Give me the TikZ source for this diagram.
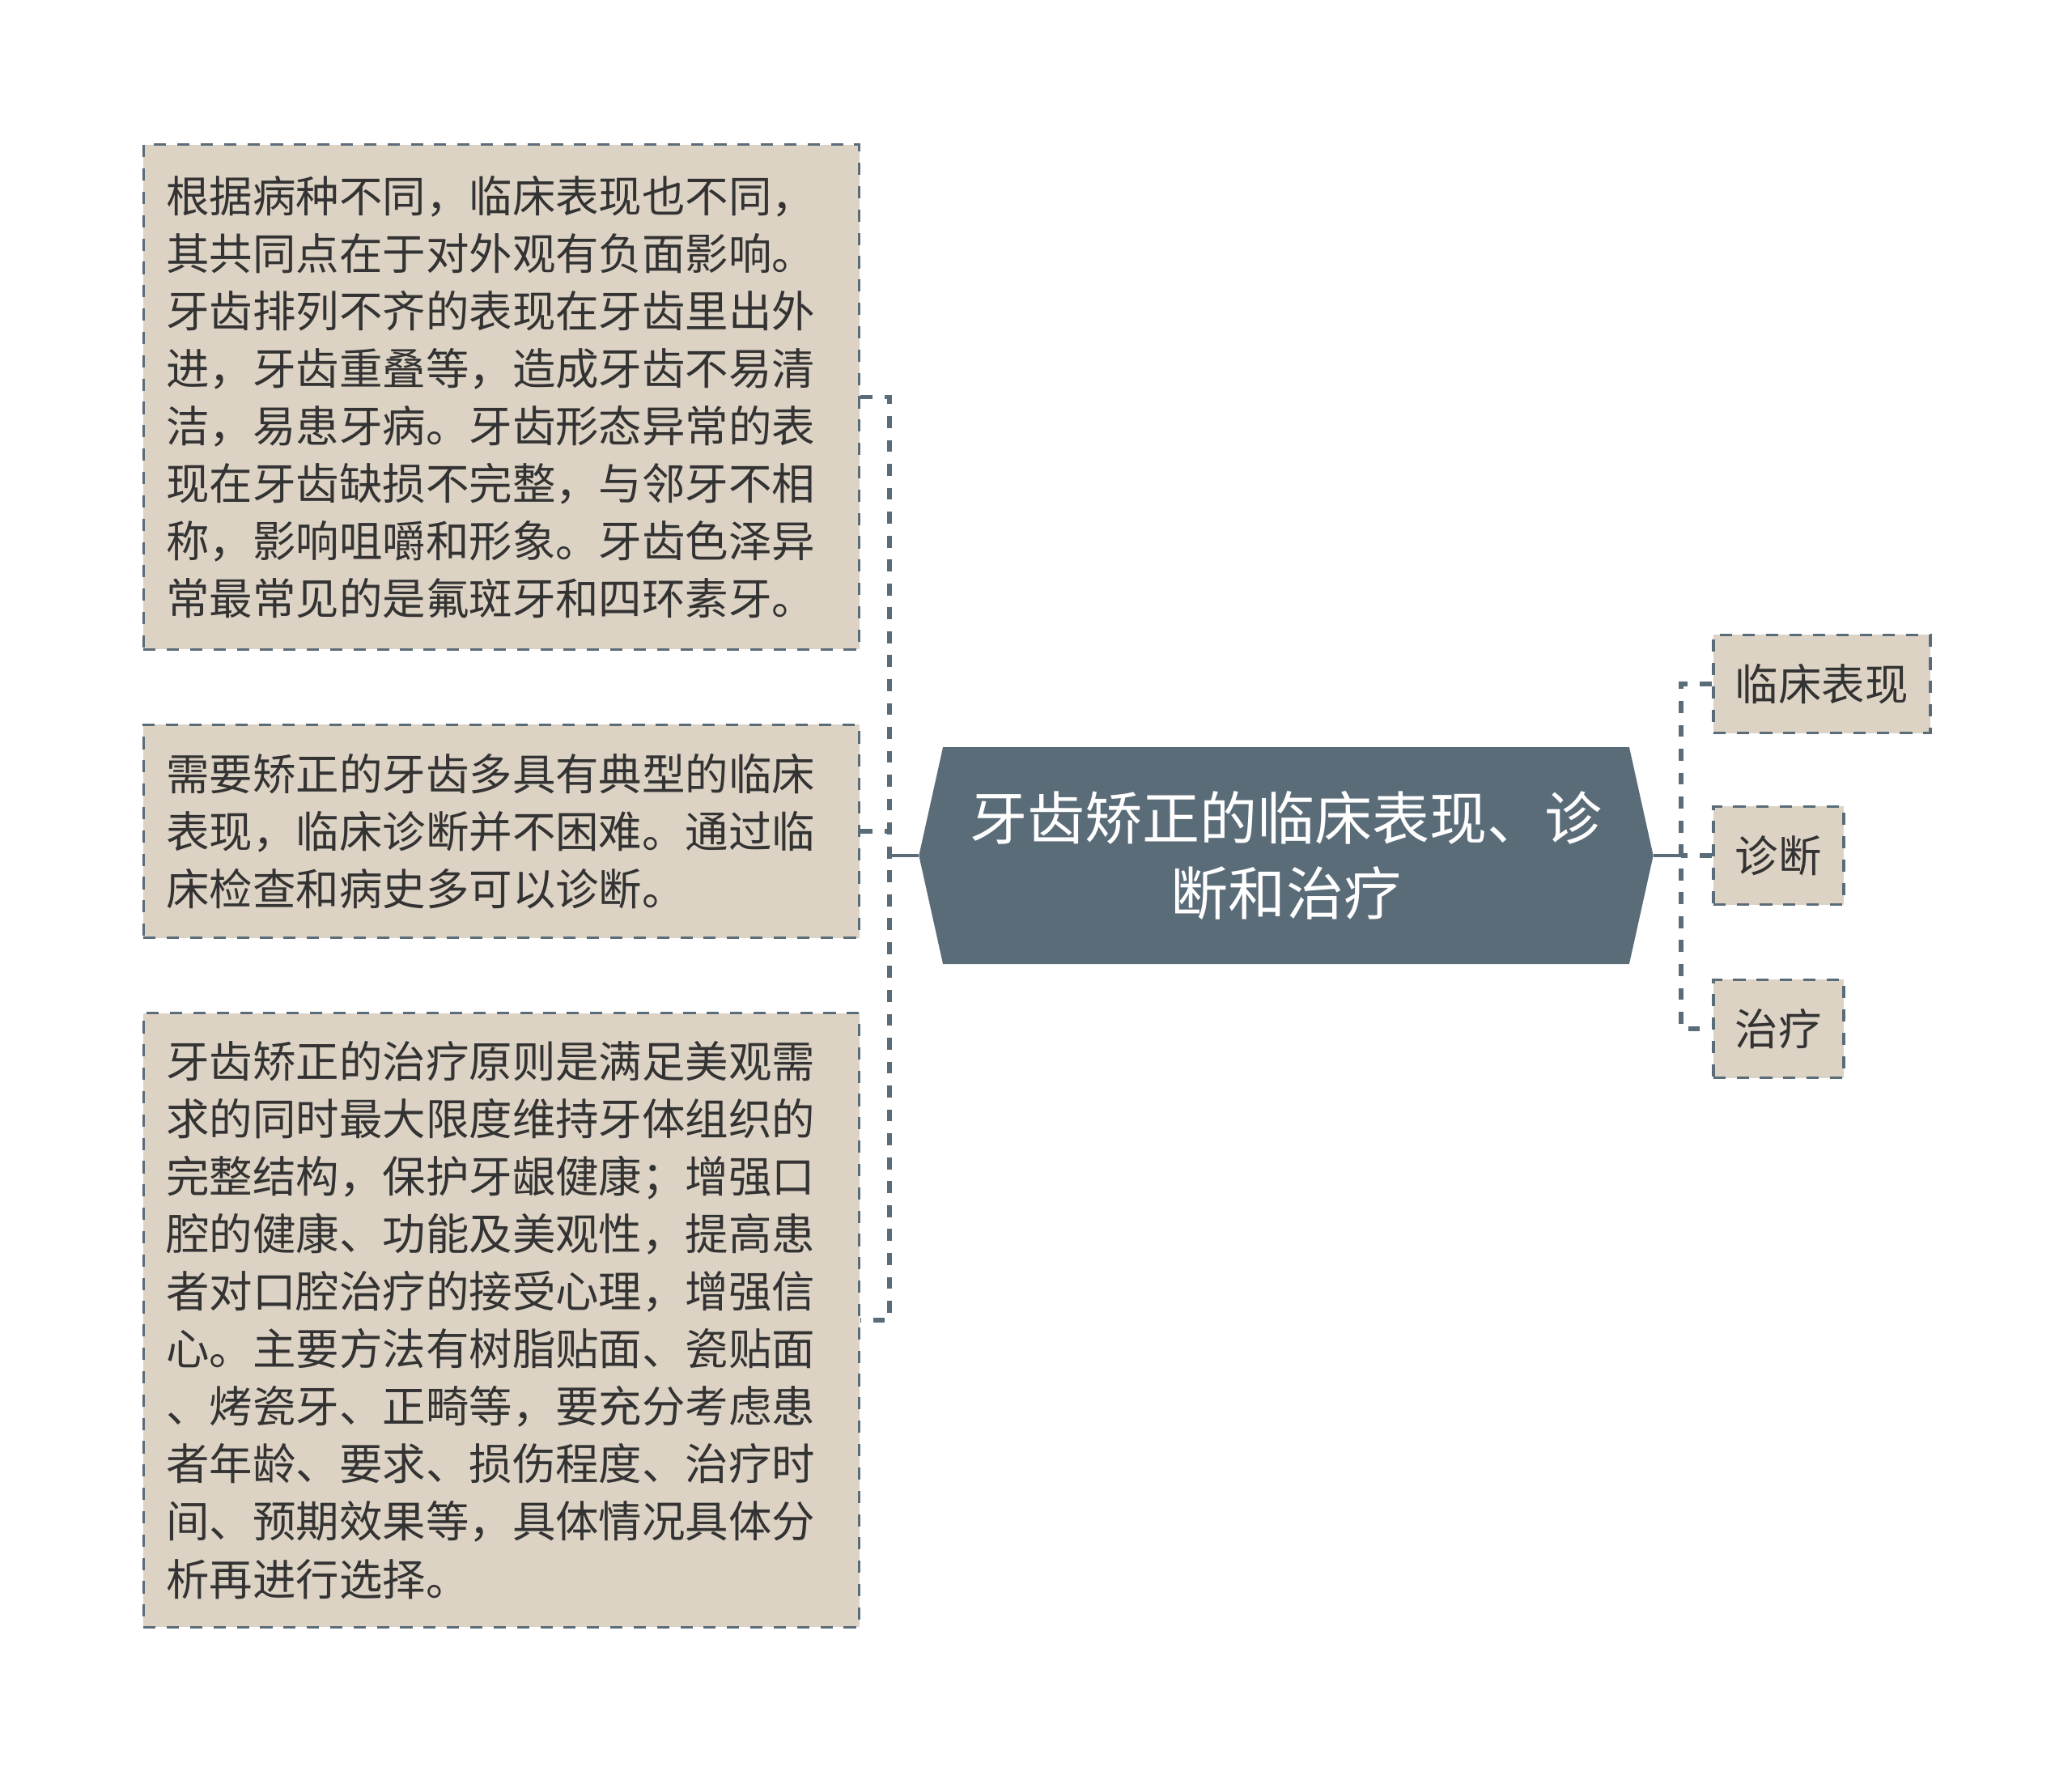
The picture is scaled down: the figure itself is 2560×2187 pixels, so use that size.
\documentclass[tikz,border=0pt]{standalone}
\usepackage{fontspec}
\newfontfamily\cjk{Noto Sans CJK SC}
\usetikzlibrary{shapes.symbols}
\definecolor{slate}{HTML}{5B6C79}
\definecolor{sand}{HTML}{DDD3C4}
\definecolor{ink}{HTML}{333333}
\tikzset{
	notebox/.style={draw=slate, line width=1pt, dash pattern=on 4.3pt off 3.9pt, fill=sand, text=ink,
		font=\cjk\fontsize{15.2pt}{20.2pt}\selectfont, text width=235.5pt, align=left, inner xsep=8pt, inner ysep=0pt},
	leafbox/.style={draw=slate, line width=1pt, dash pattern=on 4.3pt off 3.9pt, fill=sand, text=ink,
		font=\cjk\fontsize{15.2pt}{18pt}\selectfont, inner xsep=7.7pt, minimum height=34.5pt, anchor=west},
	hubnode/.style={signal, signal to=west and east, signal pointer angle=155, fill=slate, text=white,
		font=\cjk\fontsize{20.2pt}{26.5pt}\selectfont, align=center, minimum width=258pt, minimum height=76.2pt, inner sep=0pt},
	link/.style={draw=slate, line width=1.5pt, dash pattern=on 4.2pt off 4.2pt},
	trunk/.style={draw=slate, line width=1.2pt},
}

\begin{document}
\begin{tikzpicture}[x=0.01cm, y=-0.01cm]
			%%%%% START %%%%%
			\path[fill=white, use as bounding box] (0, 0) rectangle (2560, 2187);
			
			\node[notebox, minimum height=177.4pt] (signs) at (619.5, 490.5) {根据病种不同，临床表现也不同，\\其共同点在于对外观有负面影响。\\牙齿排列不齐的表现在牙齿里出外\\进，牙齿重叠等，造成牙齿不易清\\洁，易患牙病。牙齿形态异常的表\\现在牙齿缺损不完整，与邻牙不相\\称，影响咀嚼和形象。牙齿色泽异\\常最常见的是氟斑牙和四环素牙。};
			\node[notebox, minimum height=74.9pt] (diagnose) at (619.5, 1027) {需要矫正的牙齿多具有典型的临床\\表现，临床诊断并不困难。通过临\\床检查和病史多可以诊断。};
			\node[notebox, minimum height=215.8pt] (cure) at (619.5, 1631) {牙齿矫正的治疗原则是满足美观需\\求的同时最大限度维持牙体组织的\\完整结构，保护牙龈健康；增强口\\腔的健康、功能及美观性，提高患\\者对口腔治疗的接受心理，增强信\\心。主要方法有树脂贴面、瓷贴面\\、烤瓷牙、正畸等，要充分考虑患\\者年龄、要求、损伤程度、治疗时\\间、预期效果等，具体情况具体分\\析再进行选择。};
			
			\node[hubnode] (hub) at (1589, 1057) {牙齿矫正的临床表现、诊\\断和治疗};
			
			\node[leafbox] (clinic) at (2115, 845) {临床表现};
			\node[leafbox] (diag) at (2115, 1057) {诊断};
			\node[leafbox] (treat) at (2115, 1271) {治疗};
			
			\coordinate (ljoin) at (1099, 1057);
			\coordinate (rjoin) at (2077, 1057);
			
			\draw[trunk] (hub.west) -- (ljoin);
			\draw[link] (signs.east) -- (ljoin |- signs.east) -- (ljoin |- cure.east) -- (cure.east);
			\draw[link] (diagnose.east) -- (ljoin |- diagnose.east);
			
			\draw[trunk] (hub.east) -- (rjoin);
			\draw[link] (clinic.west) -- (rjoin |- clinic.west) -- (rjoin |- treat.west) -- (treat.west);
			\draw[link] (diag.west) -- (rjoin |- diag.west);
			%%%%% END %%%%%
\end{tikzpicture}
\end{document}
